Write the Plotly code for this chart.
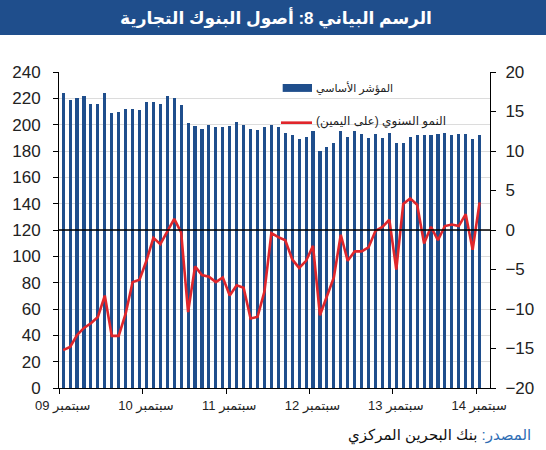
import plotly.graph_objects as go

# ---- data ----
index_values = [224, 219, 220, 222, 216, 216, 224, 209, 210, 212, 212, 211,
                217, 217, 216, 222, 220, 215, 201, 199, 197, 200, 198, 198,
                199, 202, 200, 197, 196, 198.5, 200, 198, 194, 192, 189, 191,
                195, 180, 183, 186, 195, 191, 195, 193, 190, 193, 190, 194,
                186, 186, 191, 192, 192, 192, 193, 194, 192, 193, 193, 189,
                192]
yoy_growth = [-15.2, -14.8, -13.3, -12.4, -11.8, -11.0, -8.3, -13.4, -13.4, -10.6,
              -6.6, -6.3, -3.9, -1.0, -1.8, -0.1, 1.4, -0.3, -10.4, -4.6,
              -5.7, -5.9, -6.6, -6.0, -8.3, -7.0, -7.3, -11.2, -11.0, -7.8,
              -0.4, -0.9, -1.3, -3.7, -4.8, -3.9, -2.0, -10.8, -8.3, -6.0,
              -0.6, -3.9, -2.7, -2.7, -2.2, -0.1, 0.4, 1.3, -5.0, 3.3,
              4.0, 3.2, -1.7, 0.4, -1.3, 0.5, 0.7, 0.5, 2.0, -2.5,
              3.5]
tick_labels = ["سبتمبر 09", "سبتمبر 10", "سبتمبر 11", "سبتمبر 12", "سبتمبر 13", "سبتمبر 14"]
series_names = ["المؤشر الأساسي", "النمو السنوي (على اليمين)"]
title_text = "الرسم البياني 8: أصول البنوك التجارية"
source_label = "المصدر:"
source_text = "بنك البحرين المركزي"

months = list(range(len(index_values)))
tick_positions = [12 * k - 0.5 for k in range(len(tick_labels))]

BLUE = "#1F4E8C"
RED = "#E0262B"
SRC_BLUE = "#2E6DB4"
FONT = "Liberation Sans, Arial, DejaVu Sans, sans-serif"

fig = go.Figure()
fig.add_trace(go.Bar(x=months, y=index_values, name=series_names[0],
                     marker=dict(color=BLUE, line=dict(width=0)), width=0.45,
                     yaxis="y"))
fig.add_trace(go.Scatter(x=months, y=yoy_growth, name=series_names[1],
                         mode="lines", line=dict(color=RED, width=2.6),
                         yaxis="y2"))

fig.update_layout(
    width=546, height=450,
    margin=dict(l=50, r=53, t=72, b=62),
    paper_bgcolor="white", plot_bgcolor="white",
    showlegend=False,
    font=dict(family=FONT, color="#222222"),
    bargap=0,
    xaxis=dict(range=[-0.6, 61.5], tickmode="array", tickvals=tick_positions,
               ticktext=tick_labels, ticks="outside", ticklen=5, tickcolor="black",
               showline=True, linecolor="black", linewidth=1, showgrid=False,
               zeroline=False, tickfont=dict(size=13), ticklabelshift=3),
    yaxis=dict(range=[0, 240], dtick=20, ticks="outside", ticklen=5,
               tickcolor="black", showline=True, linecolor="black", linewidth=1,
               showgrid=True, gridcolor="#DCDCDC", gridwidth=1, zeroline=False,
               tickfont=dict(size=17), ticklabelstandoff=9),
    yaxis2=dict(range=[-20, 20], dtick=5, overlaying="y", side="right",
                ticks="outside", ticklen=5, tickcolor="black", showline=True,
                linecolor="black", linewidth=1, showgrid=False, zeroline=False,
                tickfont=dict(size=17), ticklabelstandoff=6),
)

# black reference line at zero growth
fig.add_shape(type="line", xref="paper", x0=0, x1=1, yref="y2", y0=0, y1=0,
              line=dict(color="black", width=1.5), layer="above")

# title banner
fig.add_shape(type="rect", xref="paper", yref="paper", x0=-0.2, x1=1.2,
              y0=1.117, y1=1.3, fillcolor=BLUE, line=dict(width=0), layer="below")
fig.add_annotation(xref="paper", yref="paper", x=0.503, y=1.172, text="<b>" + title_text + "</b>",
                   showarrow=False, font=dict(size=17, color="white"),
                   xanchor="center", yanchor="middle")

# manual legend
fig.add_shape(type="rect", xref="paper", yref="paper", x0=0.519, x1=0.587,
              y0=0.937, y1=0.962, fillcolor=BLUE, line=dict(width=0))
fig.add_annotation(xref="paper", yref="paper", x=0.591, y=0.949, text=series_names[0],
                   showarrow=False, font=dict(size=11, color="#222222"),
                   xanchor="left", yanchor="middle")
fig.add_shape(type="line", xref="paper", yref="paper", x0=0.515, x1=0.587,
              y0=0.8396, y1=0.8396, line=dict(color=RED, width=2.6))
fig.add_annotation(xref="paper", yref="paper", x=0.591, y=0.842, text=series_names[1],
                   showarrow=False, font=dict(size=12, color="#222222"),
                   xanchor="left", yanchor="middle")

# source note (single text, label coloured)
fig.add_annotation(xref="paper", yref="paper", x=1.1, y=-0.149,
                   text=f"<span style='color:{SRC_BLUE}'>{source_label}</span> {source_text}",
                   showarrow=False,
                   font=dict(size=15, color="#111111"), xanchor="right", yanchor="middle")

fig.write_html("out.html", config={"displayModeBar": False},
               post_script="document.body.style.margin='0';document.body.style.overflow='hidden';")
